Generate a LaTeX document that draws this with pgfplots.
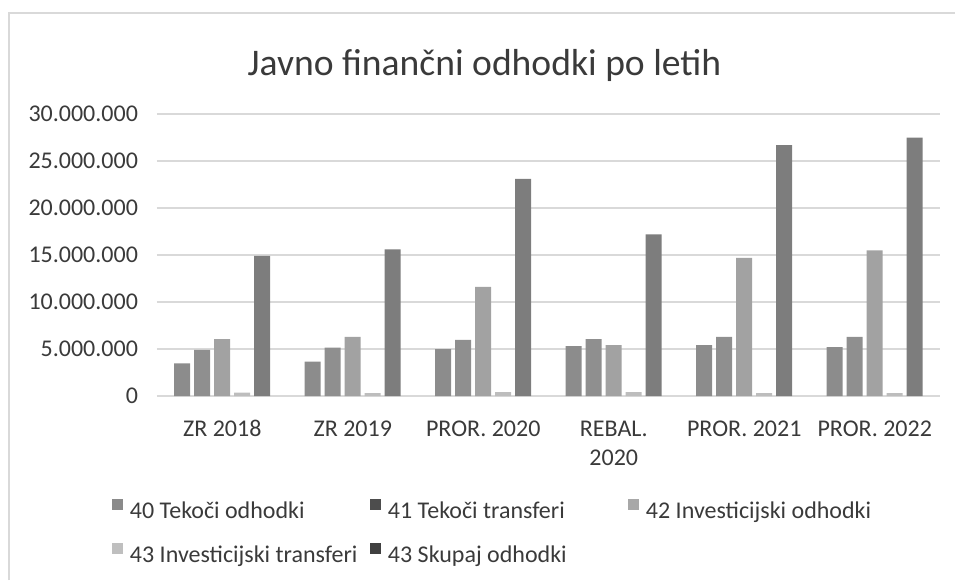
\documentclass[border=0pt]{standalone}
\usepackage{pgfplots}
\pgfplotsset{compat=1.18}
\usepackage{fontspec}
\setmainfont{Carlito}
\definecolor{sA}{HTML}{8C8C8C}
\definecolor{sB}{HTML}{8F8F8F}
\definecolor{sC}{HTML}{A2A2A2}
\definecolor{sD}{HTML}{BDBDBD}
\definecolor{sE}{HTML}{7D7D7D}
\definecolor{lA}{HTML}{8A8A8A}
\definecolor{lB}{HTML}{4D4D4D}
\definecolor{lC}{HTML}{A8A8A8}
\definecolor{lD}{HTML}{BFBFBF}
\definecolor{lE}{HTML}{404040}
\definecolor{gridc}{HTML}{D9D9D9}
\definecolor{framec}{HTML}{D9D9D9}
\definecolor{textc}{HTML}{3A3A3A}
\begin{document}
\begin{tikzpicture}
\path[use as bounding box] (0pt,0pt) rectangle (477.5pt,290pt);
\draw[framec, line width=0.8pt] (4.5pt,0pt) -- (4.5pt,283.5pt) -- (477.5pt,283.5pt);
\node[anchor=base, font=\fontsize{18.8}{22}\selectfont, text=textc, inner sep=0pt] at (242.25pt,252pt) {Javno finančni odhodki po letih};
\begin{axis}[
  at={(78.5pt,92pt)}, anchor=south west,
  scale only axis, width=391.5pt, height=141pt,
  ybar=2pt, bar width=8pt,
  xmin=-0.5, xmax=5.5, ymin=0, ymax=30000000,
  scaled y ticks=false,
  xtick={0,1,2,3,4,5},
  xticklabels={\strut ZR 2018, \strut ZR 2019, \strut PROR. 2020, {\strut REBAL.\\\strut 2020}, \strut PROR. 2021, \strut PROR. 2022},
  ytick={0,5000000,10000000,15000000,20000000,25000000,30000000},
  yticklabels={0, 5.000.000, 10.000.000, 15.000.000, 20.000.000, 25.000.000, 30.000.000},
  ymajorgrids, grid style={gridc, line width=0.75pt},
  axis line style={draw=none},
  major tick length=0pt,
  ticklabel style={font=\fontsize{12}{14.4}\selectfont, text=textc},
  xticklabel style={align=center, anchor=north, yshift=-6.5pt},
  yticklabel style={xshift=-6pt},
  legend columns=3,
  legend style={at={(-0.058,-0.3635)}, anchor=north west, draw=none, fill=none,
    inner sep=0pt, font=\fontsize{12}{14.4}\selectfont, text=textc, row sep=10pt,
    /tikz/every odd column/.append style={column sep=3.5pt},
    nodes={inner sep=0pt, text height=8.6pt, text depth=2.4pt, anchor=west}},
]
\addplot[fill=sA, draw=none, legend image code/.code={\fill[lA] (0pt,1.2pt) rectangle (5.5pt,6.7pt);}]
  coordinates {(0,3470000) (1,3650000) (2,5000000) (3,5300000) (4,5400000) (5,5200000)};
\addplot[fill=sB, draw=none, legend image code/.code={\fill[lB] (0pt,1.2pt) rectangle (5.5pt,6.7pt);}]
  coordinates {(0,4900000) (1,5140000) (2,5960000) (3,6060000) (4,6280000) (5,6280000)};
\addplot[fill=sC, draw=none, legend image code/.code={\fill[lC] (0pt,1.2pt) rectangle (5.5pt,6.7pt);}]
  coordinates {(0,6060000) (1,6300000) (2,11600000) (3,5400000) (4,14700000) (5,15500000)};
\addplot[fill=sD, draw=none, legend image code/.code={\fill[lD] (0pt,1.2pt) rectangle (5.5pt,6.7pt);}]
  coordinates {(0,350000) (1,300000) (2,400000) (3,400000) (4,300000) (5,300000)};
\addplot[fill=sE, draw=none, legend image code/.code={\fill[lE] (0pt,1.2pt) rectangle (5.5pt,6.7pt);}]
  coordinates {(0,14900000) (1,15600000) (2,23100000) (3,17200000) (4,26700000) (5,27500000)};
\legend{\makebox[120pt][l]{40 Tekoči odhodki}, \makebox[120pt][l]{41 Tekoči transferi}, \makebox[120pt][l]{42 Investicijski odhodki}, \makebox[120pt][l]{43 Investicijski transferi}, \makebox[120pt][l]{43 Skupaj odhodki}}
\end{axis}
\end{tikzpicture}
\end{document}
